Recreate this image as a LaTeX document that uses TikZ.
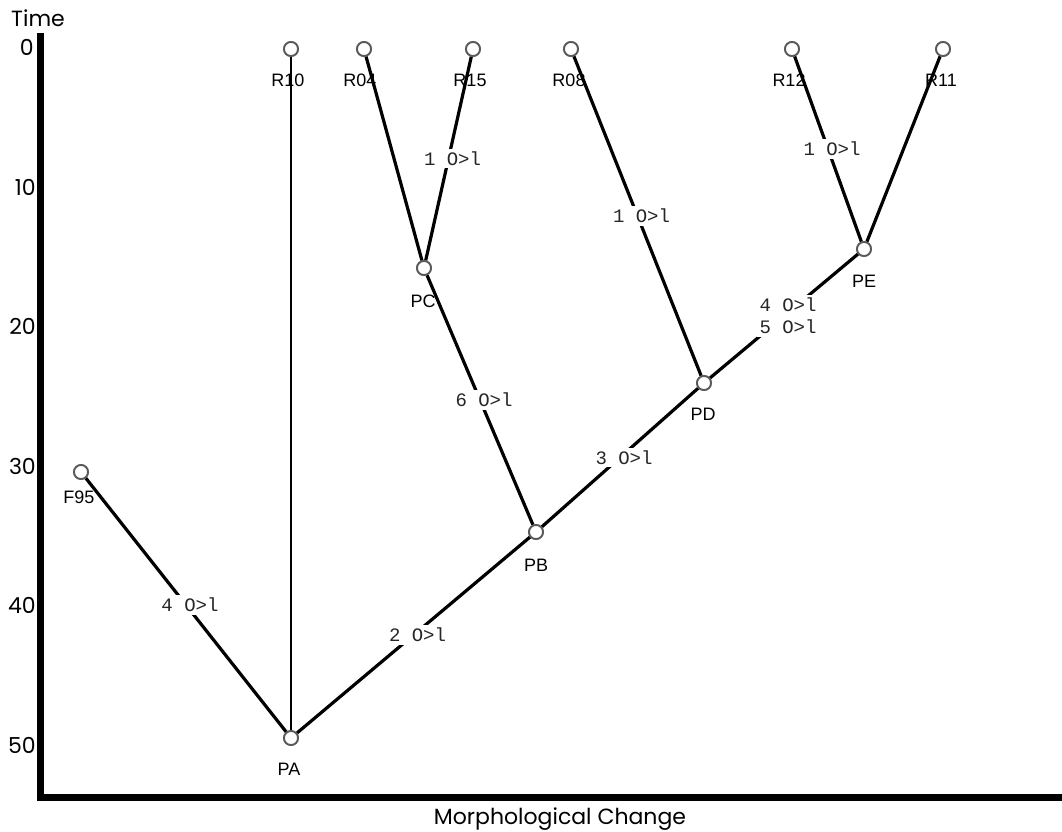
\documentclass[tikz,border=0pt]{standalone}
\usepackage{fontspec}
\setmainfont{Liberation Sans}
\newfontfamily\monof{Liberation Mono}
\newfontfamily\axisf{Poppins}
\begin{document}
\begin{tikzpicture}[x=1pt,y=-1pt,
  tnode/.style={circle,draw=black!65,line width=1.8pt,fill=white,minimum size=14pt,inner sep=0pt},
  edge/.style={line width=3.2pt,black},
  thinedge/.style={line width=2pt,black},
  lbl/.style={font=\fontsize{18}{20}\selectfont,inner sep=0pt},
  elbl/.style={font=\monof\fontsize{19}{22}\selectfont,fill=white,inner sep=3pt,align=center,xshift=4pt,text=black!85},
  axlbl/.style={font=\axisf\fontsize{22}{25}\selectfont,inner sep=0pt},
  tick/.style={font=\axisf\fontsize{22}{25}\selectfont,inner sep=0pt,anchor=east}]
\useasboundingbox (0,0) rectangle (1062,831);
% axes
\draw[line width=7pt] (40,33) -- (40,797) -- (1062,797);
\node[axlbl] (time) at (38,18) {Time};
\node[axlbl] (mc) at (560,819) {Morphological Change};
\node[tick] (t0) at (34,47) {0};
\node[tick] (t10) at (36,187) {10};
\node[tick] (t20) at (36,326) {20};
\node[tick] (t30) at (36,466) {30};
\node[tick] (t40) at (36,605) {40};
\node[tick] (t50) at (36,745) {50};
% nodes
\node[tnode] (R10) at (291,49) {};
\node[tnode] (R04) at (364,49) {};
\node[tnode] (R15) at (473,49) {};
\node[tnode] (R08) at (571,49) {};
\node[tnode] (R12) at (792,49) {};
\node[tnode] (R11) at (943,49) {};
\node[tnode] (PC) at (424,268) {};
\node[tnode] (PB) at (536,532) {};
\node[tnode] (PD) at (704,383) {};
\node[tnode] (PE) at (864,249) {};
\node[tnode] (PA) at (291,738) {};
\node[tnode] (F95) at (81,472) {};
% edges
\draw[thinedge] (PA) -- (R10);
\draw[edge] (PA) -- node[elbl,midway] (l1) {4 O>l} (F95);
\draw[edge] (PA) -- node[elbl,midway] (l2) {2 O>l} (PB);
\draw[edge] (PB) -- node[elbl,midway] (l3) {6 O>l} (PC);
\draw[edge] (PB) -- node[elbl,midway] (l4) {3 O>l} (PD);
\draw[edge] (PC) -- (R04);
\draw[edge] (PC) -- node[elbl,midway] (l5) {1 O>l} (R15);
\draw[edge] (PD) -- node[elbl,midway] (l6) {1 O>l} (R08);
\draw[edge] (PD) -- node[elbl,midway] (l7) {4 O>l\\5 O>l} (PE);
\draw[edge] (PE) -- node[elbl,midway] (l8) {1 O>l} (R12);
\draw[edge] (PE) -- (R11);
% redraw circles on top
\foreach \n in {R10,R04,R15,R08,R12,R11,PC,PB,PD,PE,PA,F95}
  \node[tnode] at (\n) {};
% node labels
\node[lbl] (tR10) at ([shift={(-3,31)}]R10) {R10};
\node[lbl] (tR04) at ([shift={(-4,31)}]R04) {R04};
\node[lbl] (tR15) at ([shift={(-3,31)}]R15) {R15};
\node[lbl] (tR08) at ([shift={(-2,31)}]R08) {R08};
\node[lbl] (tR12) at ([shift={(-3,31)}]R12) {R12};
\node[lbl] (tR11) at ([shift={(-2,31)}]R11) {R11};
\node[lbl] (tPC) at ([shift={(-1,33)}]PC) {PC};
\node[lbl] (tPB) at ([shift={(0,33)}]PB) {PB};
\node[lbl] (tPD) at ([shift={(-1,31)}]PD) {PD};
\node[lbl] (tPE) at ([shift={(0,32)}]PE) {PE};
\node[lbl] (tPA) at ([shift={(-2,31)}]PA) {PA};
\node[lbl] (tF95) at ([shift={(-2,25)}]F95) {F95};
\end{tikzpicture}
\end{document}
